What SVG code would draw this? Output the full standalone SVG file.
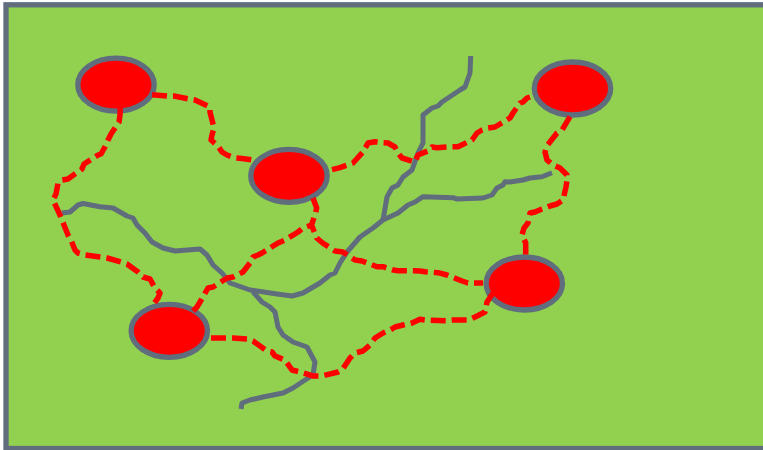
<svg xmlns="http://www.w3.org/2000/svg" width="763" height="450" viewBox="0 0 763 450">
<style>
.bg{fill:#92d050;stroke:#5f6d7d;stroke-width:5.3}
.site{fill:#ff0000;stroke:#5f6d7d;stroke-width:5.3}
.river{fill:none;stroke:#5f6d7d;stroke-width:5;stroke-linejoin:round}
.link{fill:none;stroke:#ff0000;stroke-width:5.5;stroke-dasharray:15 6;stroke-linejoin:round}
</style>
<rect x="0" y="0" width="763" height="450" fill="#fff"/>
<rect class="bg" x="6" y="4.800" width="800" height="443.700"/>
<g id="node-1"><ellipse class="site" cx="116" cy="84.700" rx="38.200" ry="26.500"/></g>
<g id="node-2"><ellipse class="site" cx="289" cy="175.800" rx="38.200" ry="26.500"/></g>
<g id="node-3"><ellipse class="site" cx="572.500" cy="88.500" rx="38.200" ry="26.500"/></g>
<g id="node-4"><ellipse class="site" cx="524.300" cy="283.500" rx="38.200" ry="26.500"/></g>
<g id="node-5"><ellipse class="site" cx="169.300" cy="330.800" rx="38.200" ry="26.500"/></g>
<g id="connectors">
<path class="river" d="M61.700 213L70 212L78 205L83 203.500L100 206.700L113 208L127 216L133 218L137 225L145 233L152 242L163 248L175 251L200 249L207 255L213 265L222 273L230 283L250 290L277 294L292 296L303 293L320 283L330 275L335 273L340 263L347 252L360 237L373 228L383 220L398 213L408 205L415 202L423 196.700L453 197.700L457 199L483 198L492 195L497 188L503 185L505 181.700L510 182L523 180L530 178L542 176.700L552 172.700"/>
<path class="river" d="M383 220L387 197L392 188L398 185L403 177L412 170L418 153L423 143L423 115L432 108L438 106L442 102L460 90L465 87L470 73L470.700 56"/>
<path class="river" d="M253 292L262 302L270 307L275 312L278 327L283 335L293 342L307 347L315 362L313 375L302 382L293 388L283 393L263 397L250 400L242 403L241 409"/>
<path class="link" d="M120.300 108L120 115L119 122L111 134L108 140L106 145L101 154L98 155L84 164L82 169L68 179L62 180L58 183L56 194L53 200L60 215L64 225L68 235L71 240L75 250L78 253L85 255L100 257L107 258L121 262L127 264L138 272L143 277L150 279L155 288L160 293L158 298L152 306"/>
<path class="link" d="M152 94.700L168 96L174 96L189 99L195 100L210 107L210 112L214 128L212 135L211 140L218 146L222 152L227 155L235 158L242 158.500L257 160.500"/>
<path class="link" d="M332 169.700L340 167.700L353 163L363 152L368 143L375 141.700L381 142.700L388 143L395 147L398 153L402 158L415 162L418 155L430 150L432 147L437 147.700L452 146.700L458 146.700L472 140L477 133L482 130L488 128L495 127L510 118L513 113L520 103L523 102L527 98L530 97"/>
<path class="link" d="M570 116.700L562 130L557 133L547 145.700L545 152L547 160L553 165L560 168L567 175L567 180L566 187L563 200L557 204L550 206L542 209L535 212L530 213L528 223L524 228L522 235L525.700 243L525.700 249L525.700 257"/>
<path class="link" d="M313 198L316.700 208L315 215L311.500 225L316.700 238L322.700 243L335 251L343 252L355 260L362 261L377 266.700L383 266.700L393 270L398 270.700L403 270.700L420 271L425 271.700L438 272.700L447 275L462 281L468 283L483 283"/>
<path class="link" d="M193 311L197 307L200 302L208 288L213 287L227 278L233 277L243 272L250 263L253 257L258 255L262 253L267 250L278 243L285 240L298 232L303 228L312 225"/>
<path class="link" d="M211 338L227 338L233 338L248 339L253 341L267 351L272 352L275 356L285 360L292 370L300 372L313 376L322 376L338 372L342 370L350 358L355 353L363 351L370 345L375 338L383 333L390 330L395 327L403 325L412 323L420 319.300L425 320L447 320.700L453 320L468 320L475 317L485 312L487 302L493 293"/>
</g>
</svg>
